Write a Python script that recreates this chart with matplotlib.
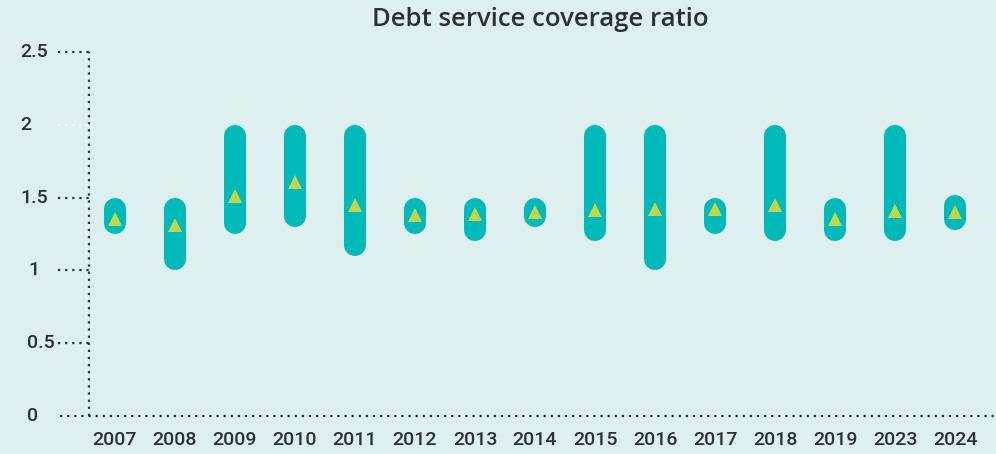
import numpy as np
import matplotlib.pyplot as plt
from matplotlib.transforms import blended_transform_factory

years = ["2007", "2008", "2009", "2010", "2011", "2012", "2013", "2014",
         "2015", "2016", "2017", "2018", "2019", "2023", "2024"]
dscr_low = [1.25, 1.0, 1.25, 1.30, 1.10, 1.25, 1.20, 1.30,
            1.20, 1.0, 1.25, 1.20, 1.20, 1.20, 1.28]
dscr_high = [1.5, 1.5, 2.0, 2.0, 2.0, 1.5, 1.5, 1.5,
             2.0, 2.0, 1.5, 2.0, 1.5, 2.0, 1.52]
dscr_mid = [1.35, 1.31, 1.51, 1.61, 1.45, 1.38, 1.39, 1.40,
            1.415, 1.42, 1.42, 1.45, 1.35, 1.41, 1.40]
y_ticks = [0, 0.5, 1, 1.5, 2, 2.5]
y_labels = ["0", "0.5", "1", "1.5", "2", "2.5"]

BG = "#ddefef"
TEAL = "#00b9b9"
LIME = "#c0d64a"
INK = "#2b3139"

plt.rcParams["font.family"] = ["Roboto", "DejaVu Sans"]

W, H, DPI = 996, 454, 100
fig = plt.figure(figsize=(W / DPI, H / DPI), dpi=DPI, facecolor=BG)
ax = fig.add_axes([89 / W, 1 - 416 / H, 1 - 89 / W, (416 - 52) / H])
ax.set_facecolor(BG)

ymax = 2.5
ax.set_ylim(0, ymax)
x = np.arange(len(years))
ax.set_xlim(-0.43, len(years) - 0.32)

# capsule bars: round-capped lines, ends pulled in by the cap radius
bar_px = 22
ax_h_px = (416 - 52)
r = (bar_px / 2) / (ax_h_px / ymax)
lw_pt = bar_px * 72 / DPI
for xi, lo, hi in zip(x, dscr_low, dscr_high):
    ax.plot([xi, xi], [lo + r, hi - r], color=TEAL, lw=lw_pt,
            solid_capstyle="round", zorder=2)
ax.plot(x, dscr_mid, linestyle="none", marker="^", ms=9.5,
        color=LIME, markeredgewidth=0, zorder=3)

for s in ax.spines.values():
    s.set_visible(False)
ax.set_xticks([])
ax.set_yticks([])

dot = dict(lw=1.6, linestyle=(0, (1, 2.2)), dash_capstyle="butt", clip_on=False)
# y axis and baseline
ax.plot([0, 0], [0, 1], transform=ax.transAxes, color=INK, **dot)
ax.plot([-29 / (W - 89), 1], [0, 0], transform=ax.transAxes, color=INK, **dot)

# short dotted ticks on the left
tr = blended_transform_factory(ax.transAxes, ax.transData)
tick_len = 31 / (W - 89)
label_left = [27, 27, 28, 20, 20, 20]
for yv, lab, lx in zip(y_ticks, y_labels, label_left):
    c = "white" if yv == 2 else INK
    if yv > 0:
        ax.plot([-tick_len, 0], [yv, yv], transform=tr, color=c, **dot)
    fig.text(lx / W, ax.transData.transform((0, yv))[1] / H, lab,
             ha="left", va="center", fontsize=14, color=INK,
             fontweight="medium")

for xi, lab in zip(x, years):
    ax.text(xi, -0.1, lab, ha="center", va="top", fontsize=14,
            color=INK, fontweight="medium",
            transform=ax.transData, clip_on=False)

fig.text(540 / W, 1 - 20 / H, "Debt service coverage ratio", ha="center",
         va="center", fontsize=18.5, color=INK, fontweight="semibold",
         family=["Open Sans", "DejaVu Sans"])

fig.savefig("out.png", dpi=DPI, facecolor=BG)
